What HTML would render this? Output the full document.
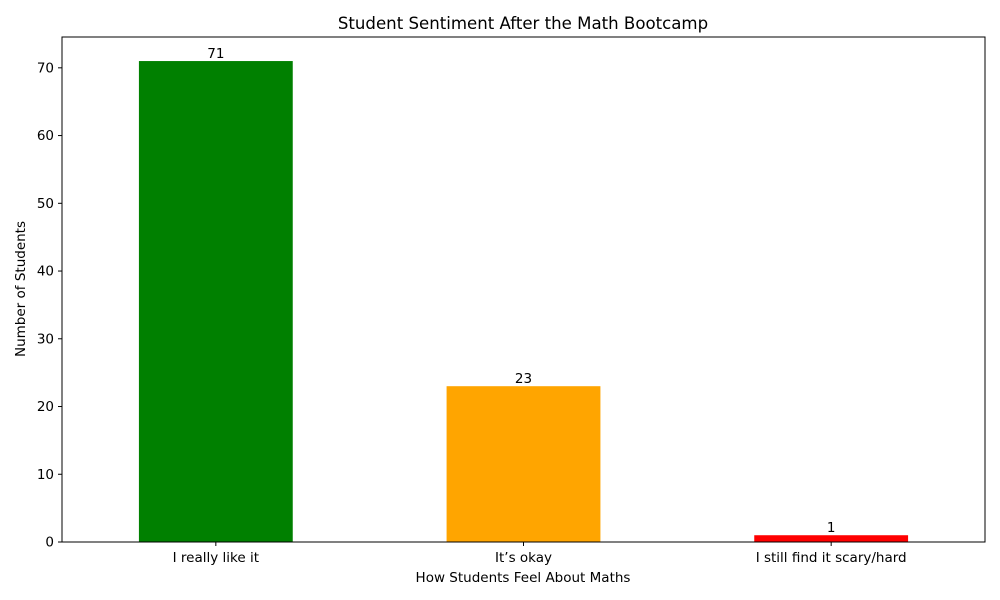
<!DOCTYPE html>
<html><head><meta charset="utf-8"><style>
body{margin:0;background:#fff;}
svg{display:block;font-family:"DejaVu Sans","Liberation Sans",sans-serif;}
</style></head><body>
<svg id="chart" width="1000" height="600">
<text x="523" y="29" font-size="16.6" text-anchor="middle">Student Sentiment After the Math Bootcamp</text>
<g id="bars"></g>
<g id="axes"></g>
<text x="523" y="582" font-size="13.5" text-anchor="middle">How Students Feel About Maths</text>
<text transform="translate(25,289) rotate(-90)" font-size="13.5" text-anchor="middle">Number of Students</text>
</svg>
<script>
const categories=["I really like it","It\u2019s okay","I still find it scary/hard"];
const values=[71,23,1];
const colors=["green","orange","red"];
const yTicks=[0,10,20,30,40,50,60,70];
const L=62,R=985,T=37,B=542;
const ymax=Math.max(...values)*1.05;
const y=v=>B-(v/ymax)*(B-T);
const x=i=>L+(i+0.5)*(R-L)/categories.length;
const bw=0.5*(R-L)/categories.length;
const NS="http://www.w3.org/2000/svg";
function mk(t,a,p){const e=document.createElementNS(NS,t);for(const k in a)e.setAttribute(k,a[k]);p.appendChild(e);return e;}
const bars=document.getElementById('bars'),axes=document.getElementById('axes');
values.forEach((v,i)=>{
 const r=mk('rect',{x:x(i)-bw/2,y:y(v),width:bw,height:B-y(v),fill:colors[i]},bars);
 
 
 const t=mk('text',{x:x(i),y:y(v)-3,'font-size':13.5,'text-anchor':'middle'},bars);
 t.textContent=v;
 
 
 mk('line',{x1:x(i),x2:x(i),y1:B,y2:B+4,stroke:'#000'},axes);
 const c=mk('text',{x:x(i),y:B+20,'font-size':13.5,'text-anchor':'middle'},axes);
 c.textContent=categories[i];
 
 
});
yTicks.forEach(v=>{
 mk('line',{x1:L-4,x2:L,y1:y(v),y2:y(v),stroke:'#000'},axes);
 const t=mk('text',{x:L-8,y:y(v)+4.5,'font-size':13.5,'text-anchor':'end'},axes);
 t.textContent=v;
 
 
});
const f=mk('rect',{x:L,y:T,width:R-L,height:B-T,fill:'none',stroke:'#000','stroke-width':1},axes);


</script>
</body></html>
